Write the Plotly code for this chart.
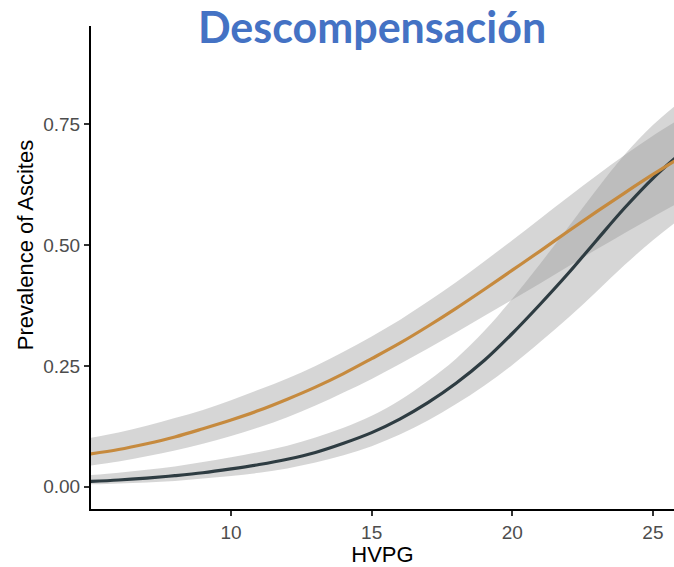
import plotly.graph_objects as go

# HVPG grid (mmHg) and fitted prevalence of ascites with 95% CI, per group
hvpg = [5, 6, 7, 8, 9, 10, 11, 12, 13, 14, 15, 16, 17, 18, 19, 20, 21, 22, 23, 24, 25, 26]

orange_fit = [0.068, 0.077, 0.089, 0.103, 0.120, 0.138, 0.158, 0.181, 0.206, 0.234, 0.265,
              0.297, 0.332, 0.369, 0.408, 0.448, 0.488, 0.529, 0.569, 0.608, 0.646, 0.682]
orange_lo = [0.044, 0.052, 0.063, 0.075, 0.089, 0.105, 0.123, 0.144, 0.168, 0.195, 0.223,
             0.254, 0.286, 0.319, 0.353, 0.387, 0.421, 0.456, 0.491, 0.525, 0.558, 0.590]
orange_hi = [0.101, 0.112, 0.126, 0.142, 0.159, 0.179, 0.201, 0.224, 0.250, 0.279, 0.311,
             0.345, 0.383, 0.423, 0.466, 0.510, 0.555, 0.600, 0.644, 0.686, 0.726, 0.762]

dark_fit = [0.011, 0.014, 0.018, 0.023, 0.029, 0.037, 0.046, 0.057, 0.071, 0.090, 0.112,
            0.140, 0.174, 0.214, 0.261, 0.317, 0.378, 0.442, 0.510, 0.577, 0.638, 0.690]
dark_lo = [0.005, 0.007, 0.009, 0.012, 0.017, 0.022, 0.029, 0.038, 0.050, 0.065, 0.084,
           0.108, 0.137, 0.171, 0.209, 0.252, 0.300, 0.350, 0.404, 0.459, 0.510, 0.556]
dark_hi = [0.024, 0.029, 0.035, 0.042, 0.051, 0.061, 0.072, 0.085, 0.102, 0.122, 0.147,
           0.179, 0.219, 0.265, 0.322, 0.389, 0.462, 0.538, 0.615, 0.687, 0.748, 0.798]

y_ticks = [0.0, 0.25, 0.5, 0.75]
y_ticktext = ["0.00", "0.25", "0.50", "0.75"]
x_ticks = [10, 15, 20, 25]

ORANGE = "#C68A3E"
DARK = "#2E3C42"
BAND = "rgba(153,153,153,0.4)"

fig = go.Figure()

# confidence ribbons
for lo, hi in [(orange_lo, orange_hi), (dark_lo, dark_hi)]:
    fig.add_trace(go.Scatter(x=hvpg, y=lo, mode="lines", line=dict(width=0, shape="spline"),
                             hoverinfo="skip", showlegend=False))
    fig.add_trace(go.Scatter(x=hvpg, y=hi, mode="lines", line=dict(width=0, shape="spline"),
                             fill="tonexty", fillcolor=BAND, hoverinfo="skip", showlegend=False))

# fitted curves
fig.add_trace(go.Scatter(x=hvpg, y=dark_fit, mode="lines",
                         line=dict(color=DARK, width=3.2, shape="spline"), showlegend=False))
fig.add_trace(go.Scatter(x=hvpg, y=orange_fit, mode="lines",
                         line=dict(color=ORANGE, width=3.2, shape="spline"), showlegend=False))

fig.update_layout(
    width=674, height=567,
    margin=dict(l=91, r=0, t=26, b=58),
    paper_bgcolor="white", plot_bgcolor="white",
    title=dict(text="<b>Descompensación</b>", xref="container", yref="container",
               x=0.552, y=0.950, xanchor="center", yanchor="middle",
               font=dict(family="Lato", size=43, color="#4472C4")),
    xaxis=dict(range=[5.02, 25.75], tickvals=x_ticks, showgrid=False, zeroline=False,
               showline=True, linecolor="black", linewidth=2,
               ticks="outside", ticklen=5, tickwidth=1.5, tickcolor="#333333",
               tickfont=dict(family="Liberation Sans", size=19, color="#4D4D4D"),
               title=dict(text="HVPG", standoff=6,
                          font=dict(family="Liberation Sans", size=22, color="black"))),
    yaxis=dict(range=[-0.046, 0.953], tickvals=y_ticks, ticktext=y_ticktext,
               showgrid=False, zeroline=False,
               showline=True, linecolor="black", linewidth=2,
               ticks="outside", ticklen=5, tickwidth=1.5, tickcolor="#333333",
               tickfont=dict(family="Liberation Sans", size=19, color="#4D4D4D")),
    annotations=[dict(text="Prevalence of Ascites", textangle=-90,
                      xref="paper", x=-0.113, xanchor="center",
                      yref="y", y=0.50, yanchor="middle", showarrow=False,
                      font=dict(family="Liberation Sans", size=22, color="black"))],
)

fig.write_html("out.html")
